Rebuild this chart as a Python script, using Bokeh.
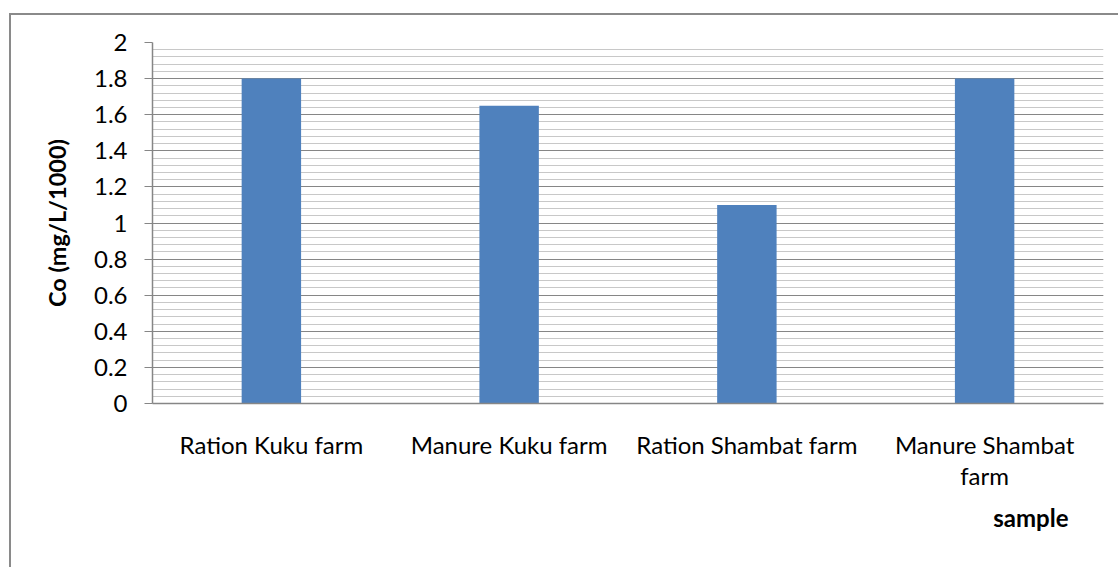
from bokeh.plotting import figure
from bokeh.models import FixedTicker, Range1d, Title, ColumnDataSource
from bokeh.embed import file_html
from bokeh.resources import INLINE

categories = ["Ration Kuku farm", "Manure Kuku farm", "Ration Shambat farm", "Manure Shambat\nfarm"]
values = [1.8, 1.65, 1.1, 1.8]
y_ticks = [0, 0.2, 0.4, 0.6, 0.8, 1.0, 1.2, 1.4, 1.6, 1.8, 2.0]
y_tick_labels = ["0", "0.2", "0.4", "0.6", "0.8", "1", "1.2", "1.4", "1.6", "1.8", "2"]
minor_ticks = [round(i * 0.04, 2) for i in range(51)]

FONT = "Lato"
GRID_MAJOR = "#868686"
GRID_MINOR = "#c8c8c8"

p = figure(x_range=categories, y_range=Range1d(0, 2), width=1109, height=554,
           output_backend="svg", toolbar_location=None,
           min_border_left=141, min_border_right=17, min_border_top=27, min_border_bottom=166)
p.styles = {"margin-left": "9px", "margin-top": "13px",
            "border-left": "2px solid #8a8a8a", "border-top": "2px solid #8a8a8a"}
p.outline_line_color = None
p.background_fill_color = "white"
p.border_fill_color = "white"

src = ColumnDataSource(dict(x=categories, top=values))
p.vbar(x="x", top="top", width=0.25, source=src, fill_color="#4f81bd", line_color=None)

p.xgrid.grid_line_color = None
p.ygrid.ticker = FixedTicker(ticks=y_ticks, minor_ticks=minor_ticks)
p.ygrid.grid_line_color = GRID_MAJOR
p.ygrid.grid_line_width = 1.2
p.ygrid.minor_grid_line_color = GRID_MINOR
p.ygrid.minor_grid_line_width = 1.2
p.ygrid.level = "underlay"

ya = p.yaxis[0]
ya.ticker = FixedTicker(ticks=y_ticks, minor_ticks=minor_ticks)
ya.major_label_overrides = {t: l for t, l in zip(y_ticks, y_tick_labels)}
ya.axis_line_color = GRID_MAJOR
ya.axis_line_width = 1.5
ya.major_tick_line_color = GRID_MAJOR
ya.major_tick_out = 8
ya.major_tick_in = 0
ya.minor_tick_out = 0
ya.minor_tick_in = 0
ya.major_label_standoff = 17
ya.major_label_text_font = FONT
ya.major_label_text_font_size = "24px"
ya.major_label_text_color = "black"
ya.axis_label = "Co (mg/L/1000)"
ya.axis_label_text_font = FONT
ya.axis_label_text_font_size = "23.5px"
ya.axis_label_text_font_style = "bold"
ya.axis_label_text_color = "black"
ya.axis_label_standoff = 20

xa = p.xaxis[0]
xa.axis_line_color = GRID_MAJOR
xa.axis_line_width = 1.5
xa.major_tick_out = 0
xa.major_tick_in = 0
xa.minor_tick_out = 0
xa.major_label_standoff = 26
xa.major_label_text_font = FONT
xa.major_label_text_font_size = "24px"
xa.major_label_text_color = "black"
xa.major_label_text_line_height = 1.08

t = Title(text="sample", align="right", text_font=FONT, text_font_size="24px",
          text_font_style="bold", text_color="black", offset=35, standoff=16)
p.add_layout(t, "below")

open("out.html", "w").write(file_html(p, INLINE))
